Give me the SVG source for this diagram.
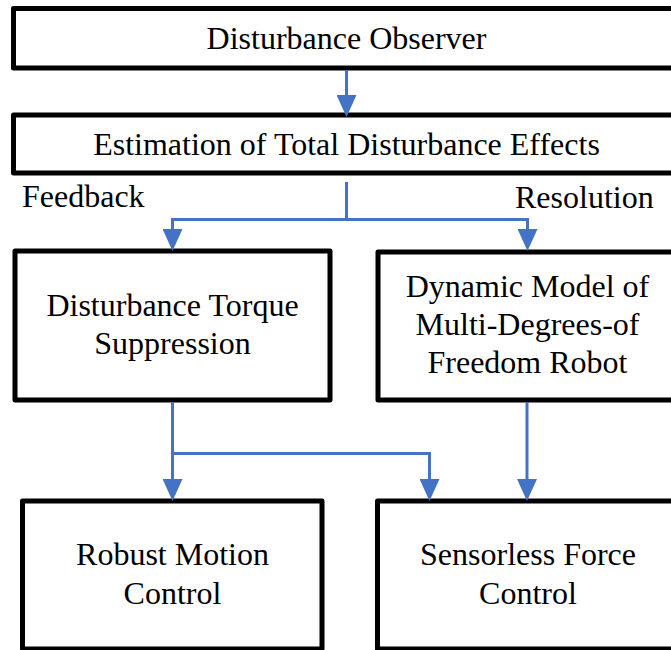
<svg xmlns="http://www.w3.org/2000/svg" width="671" height="650" viewBox="0 0 671 650">
  <style>
    .box { fill: #ffffff; stroke: #000000; stroke-width: 5; stroke-linejoin: round; }
    .t { font-family: 'Liberation Serif', serif; font-size: 32px; fill: #000000; text-anchor: middle; }
    .lbl { font-family: 'Liberation Serif', serif; font-size: 32px; fill: #000000; }
    .wire { fill: none; stroke: #4472C4; stroke-width: 3; }
  </style>
  <defs>
    <marker id="ah" viewBox="0 0 22 20" markerWidth="22" markerHeight="20" markerUnits="userSpaceOnUse" refX="0" refY="10" orient="auto">
      <path d="M0,0 L22,10 L0,20 z" fill="#4472C4"/>
    </marker>
  </defs>
  <rect width="671" height="650" fill="#ffffff"/>

  <g id="disturbance-observer">
    <rect class="box" x="13.5" y="8.5" width="666" height="59.5"/>
    <text class="t" x="346.5" y="49">Disturbance Observer</text>
  </g>
  <g id="estimation">
    <rect class="box" x="13.5" y="115" width="666" height="58"/>
    <text class="t" x="346.5" y="155">Estimation of Total Disturbance Effects</text>
  </g>
  <g id="labels">
    <text class="lbl" x="22" y="207">Feedback</text>
    <text class="lbl" x="515" y="208">Resolution</text>
  </g>
  <g id="torque-suppression">
    <rect class="box" x="15" y="251" width="315" height="149"/>
    <text class="t" x="172.5" y="316">Disturbance Torque</text>
    <text class="t" x="172.5" y="354">Suppression</text>
  </g>
  <g id="dynamic-model">
    <rect class="box" x="378" y="252" width="300" height="148"/>
    <text class="t" x="527.5" y="297">Dynamic Model of</text>
    <text class="t" x="527.5" y="335">Multi-Degrees-of</text>
    <text class="t" x="527.5" y="373">Freedom Robot</text>
  </g>
  <g id="robust-motion">
    <rect class="box" x="22.5" y="501" width="299.5" height="148"/>
    <text class="t" x="172.5" y="565">Robust Motion</text>
    <text class="t" x="172.5" y="604">Control</text>
  </g>
  <g id="sensorless-force">
    <rect class="box" x="377.5" y="501" width="300" height="148"/>
    <text class="t" x="528" y="565">Sensorless Force</text>
    <text class="t" x="528" y="604">Control</text>
  </g>

  <g id="connectors">
    <path class="wire" d="M346.5,70 V95" marker-end="url(#ah)"/>
    <path class="wire" d="M346.5,182 V219.5"/>
    <path class="wire" d="M172.5,219.5 H527.5"/>
    <path class="wire" d="M172.5,218 V229" marker-end="url(#ah)"/>
    <path class="wire" d="M527.5,218 V229" marker-end="url(#ah)"/>
    <path class="wire" d="M172.5,402 V479" marker-end="url(#ah)"/>
    <path class="wire" d="M172.5,453.5 H429.5 V479" marker-end="url(#ah)"/>
    <path class="wire" d="M527,402 V479" marker-end="url(#ah)"/>
  </g>
</svg>
